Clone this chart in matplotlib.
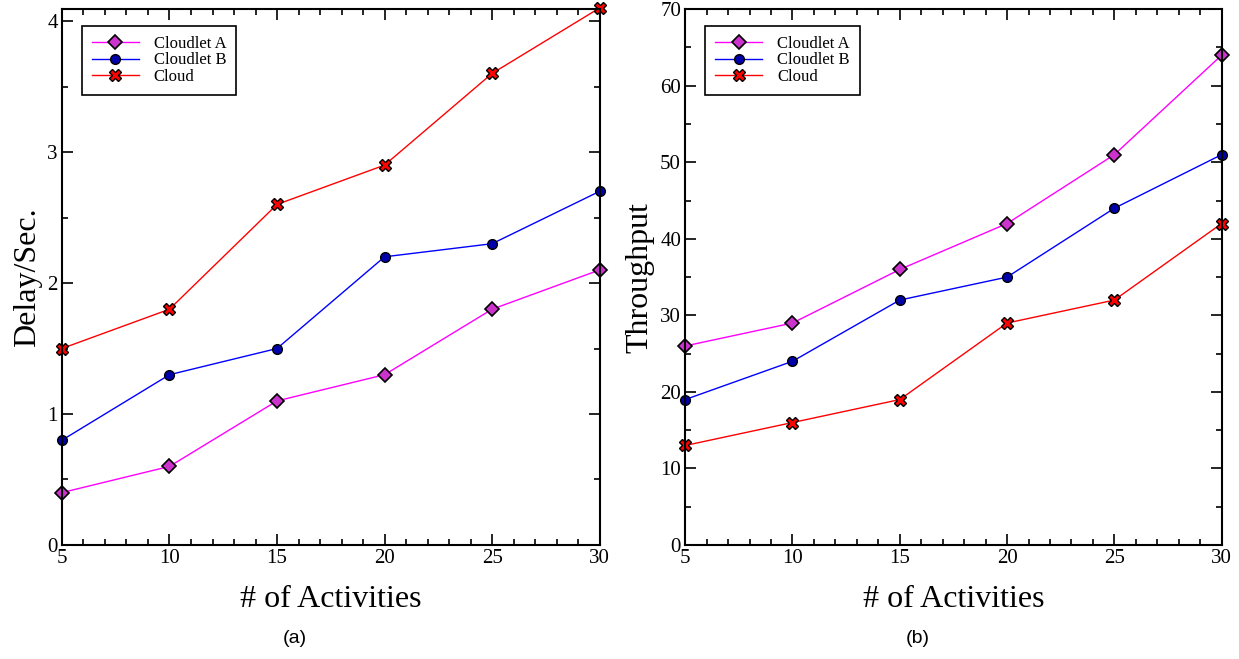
import matplotlib.pyplot as plt
from matplotlib.ticker import MultipleLocator

# Data
activities = [5, 10, 15, 20, 25, 30]

delay_cloudlet_a = [0.4, 0.6, 1.1, 1.3, 1.8, 2.1]
delay_cloudlet_b = [0.8, 1.3, 1.5, 2.2, 2.3, 2.7]
delay_cloud = [1.5, 1.8, 2.6, 2.9, 3.6, 4.1]

thr_cloudlet_a = [26, 29, 36, 42, 51, 64]
thr_cloudlet_b = [19, 24, 32, 35, 44, 51]
thr_cloud = [13, 16, 19, 29, 32, 42]

labels = ['Cloudlet A', 'Cloudlet B', 'Cloud']

plt.rcParams['font.family'] = ['Liberation Serif', 'DejaVu Serif']

fig = plt.figure(figsize=(12.39, 6.59), dpi=100)
ax1 = fig.add_axes([0.050, 0.173, 0.434, 0.813])
ax2 = fig.add_axes([0.553, 0.173, 0.433, 0.813])

styles = [
    dict(color='#ff00ff', marker='D', markersize=7, markerfacecolor='#cc33cc',
         markeredgecolor='black', markeredgewidth=1.2),
    dict(color='#0000ff', marker='o', markersize=7, markerfacecolor='#0000aa',
         markeredgecolor='black', markeredgewidth=1.0),
    dict(color='#ff0000', marker='X', markersize=8, markerfacecolor='#ff0000',
         markeredgecolor='black', markeredgewidth=1.0),
]


def style_axes(ax, ymax, ymajor, yminor, ylabel):
    ax.set_xlim(5, 30)
    ax.set_ylim(0, ymax)
    ax.xaxis.set_major_locator(MultipleLocator(5))
    ax.xaxis.set_minor_locator(MultipleLocator(1))
    ax.yaxis.set_major_locator(MultipleLocator(ymajor))
    ax.yaxis.set_minor_locator(MultipleLocator(yminor))
    ax.tick_params(which='both', direction='in', top=True, right=True,
                   labelsize=15, width=1.2)
    ax.tick_params(which='major', length=8, pad=3)
    ax.tick_params(which='minor', length=4)
    for s in ax.spines.values():
        s.set_linewidth(1.5)
    ax.set_xlabel('# of Activities', fontsize=23, labelpad=12)
    ax.set_ylabel(ylabel, fontsize=23, labelpad=4)
    ax.legend(loc='upper left', bbox_to_anchor=(0.022, 0.985), fontsize=12,
              frameon=True, fancybox=False, edgecolor='black', framealpha=1,
              borderpad=0.6, handlelength=2.8, handletextpad=0.9,
              labelspacing=0.05)
    ax.get_legend().get_frame().set_linewidth(1.2)


for data, lab, st in zip([delay_cloudlet_a, delay_cloudlet_b, delay_cloud], labels, styles):
    ax1.plot(activities, data, linewidth=1.0, label=lab, clip_on=False, **st)
style_axes(ax1, 4.09, 1, 0.5, 'Delay/Sec.')

for data, lab, st in zip([thr_cloudlet_a, thr_cloudlet_b, thr_cloud], labels, styles):
    ax2.plot(activities, data, linewidth=1.0, label=lab, clip_on=False, **st)
style_axes(ax2, 70, 10, 5, 'Throughput')

fig.text(0.238, 0.025, '(a)', fontsize=14, family='Liberation Sans', ha='center')
fig.text(0.741, 0.025, '(b)', fontsize=14, family='Liberation Sans', ha='center')

fig.savefig('out.png', dpi=100)
